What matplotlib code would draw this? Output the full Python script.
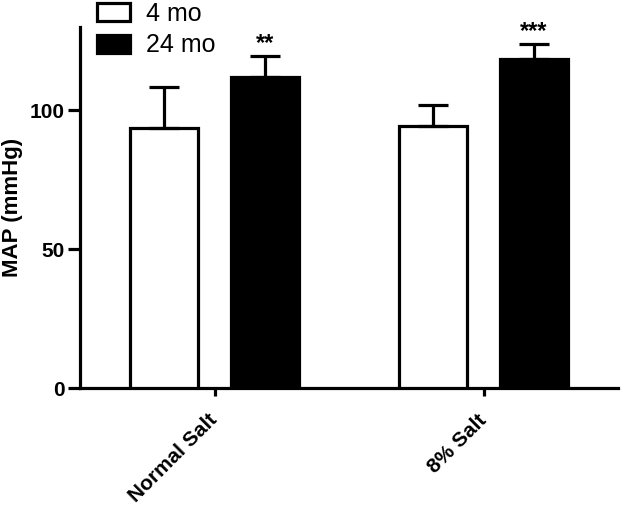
import matplotlib
matplotlib.use("Agg")
import matplotlib.pyplot as plt
from matplotlib.patches import Patch
import numpy as np

plt.rcParams['font.family'] = ['Liberation Sans', 'DejaVu Sans']

categories = ["Normal Salt", "8% Salt"]
series_names = ["4 mo", "24 mo"]
mean_4mo = [93.5, 94.2]
err_4mo = [14.8, 7.6]
mean_24mo = [111.9, 118.3]
err_24mo = [7.5, 5.4]
stars_24mo = ["**", "***"]
yticks = [0, 50, 100]

fig = plt.figure(figsize=(6.22, 5.05), dpi=100)
ax = fig.add_axes([80/622, 117/505, 538/622, 361/505])

x = np.arange(len(categories))
w = 0.255
off = 0.187
lw = 2.3
ax.bar(x - off, mean_4mo, w, color='white', edgecolor='black', linewidth=lw,
       yerr=[np.zeros(len(x)), err_4mo], capsize=11,
       error_kw=dict(elinewidth=lw, capthick=lw, ecolor='black'), zorder=3)
ax.bar(x + off, mean_24mo, w, color='black', edgecolor='black', linewidth=lw,
       yerr=[np.zeros(len(x)), err_24mo], capsize=11,
       error_kw=dict(elinewidth=lw, capthick=lw, ecolor='black'), zorder=3)

for xi, m, e, s in zip(x, mean_24mo, err_24mo, stars_24mo):
    ax.text(xi + off, m + e + 0.5, s, ha='center', va='bottom', fontsize=17,
            fontweight='bold', clip_on=False)

ax.set_xlim(-0.5, 1.5)
ax.set_ylim(0, 130)
ax.set_yticks(yticks)
ax.set_yticklabels([str(t) for t in yticks], fontsize=15, fontweight='bold')
ax.set_xticks(x)
ax.set_xticklabels(categories, fontsize=15, fontweight='bold', rotation=45,
                   ha='right', va='center', rotation_mode='anchor')
ax.tick_params(axis='y', length=9, width=lw, pad=2)
ax.tick_params(axis='x', length=6, width=lw, pad=15)
for sp in ['top', 'right']:
    ax.spines[sp].set_visible(False)
for sp in ['left', 'bottom']:
    ax.spines[sp].set_linewidth(lw)
ax.set_ylabel("MAP (mmHg)", fontsize=16, fontweight='bold')
ax.yaxis.set_label_coords(-0.106, 0.5)

handles = [Patch(facecolor='white', edgecolor='black', linewidth=lw),
           Patch(facecolor='black', edgecolor='black', linewidth=lw)]
fig.legend(handles, series_names, loc='upper left', frameon=False,
           bbox_to_anchor=(97/622, 1 - 2/505), fontsize=18,
           handlelength=1.33, handleheight=0.75, handletextpad=0.65,
           labelspacing=0.3, borderpad=0, borderaxespad=0)

fig.savefig("out.png", dpi=100)
